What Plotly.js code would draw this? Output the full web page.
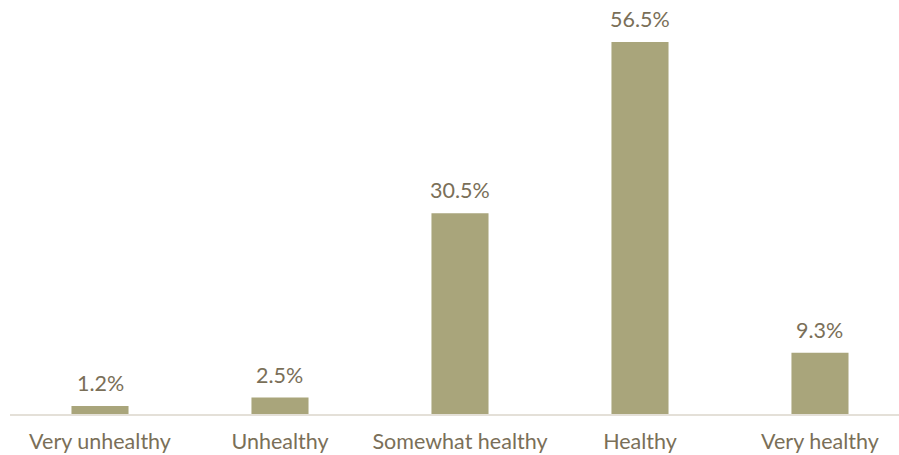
<!DOCTYPE html>
<html><head><meta charset="utf-8">
<script src="https://cdn.plot.ly/plotly-3.0.1.min.js"></script>
<style>html,body{margin:0;padding:0;background:#fff}#chart{width:899px;height:455px}</style>
</head><body><div id="chart"></div>
<script>
const categories = ["Very unhealthy", "Unhealthy", "Somewhat healthy", "Healthy", "Very healthy"];
const values = [1.2, 2.5, 30.5, 56.5, 9.3];
const labels = values.map(v => v.toFixed(1) + "%");

const textColor = "#7a6f58";
const fam = "Lato, 'Noto Sans', sans-serif";
Plotly.newPlot("chart", [{
  type: "bar",
  x: categories,
  y: values,
  marker: {color: "#a9a57b"},
  width: 0.317,
  hoverinfo: "none"
}], {
  width: 899, height: 455,
  margin: {l: 10, r: 0, t: 0, b: 41},
  paper_bgcolor: "#fff", plot_bgcolor: "#fff",
  showlegend: false,
  xaxis: {
    range: [-0.5, 4.439],
    showgrid: false, zeroline: false,
    showline: true, linecolor: "#e4e0d8", linewidth: 2,
    ticks: "", ticklabelstandoff: 7,
    tickfont: {family: fam, size: 21.5, color: textColor}
  },
  yaxis: {range: [0, 62.88], visible: false, showgrid: false, zeroline: false},
  annotations: categories.map((c, i) => ({
    x: c, y: values[i], xref: "x", yref: "y",
    text: labels[i], showarrow: false,
    yanchor: "bottom", yshift: 8,
    font: {family: fam, size: 21.5, color: textColor}
  })),
  font: {family: fam}
}, {displayModeBar: false, staticPlot: true});
</script></body></html>
